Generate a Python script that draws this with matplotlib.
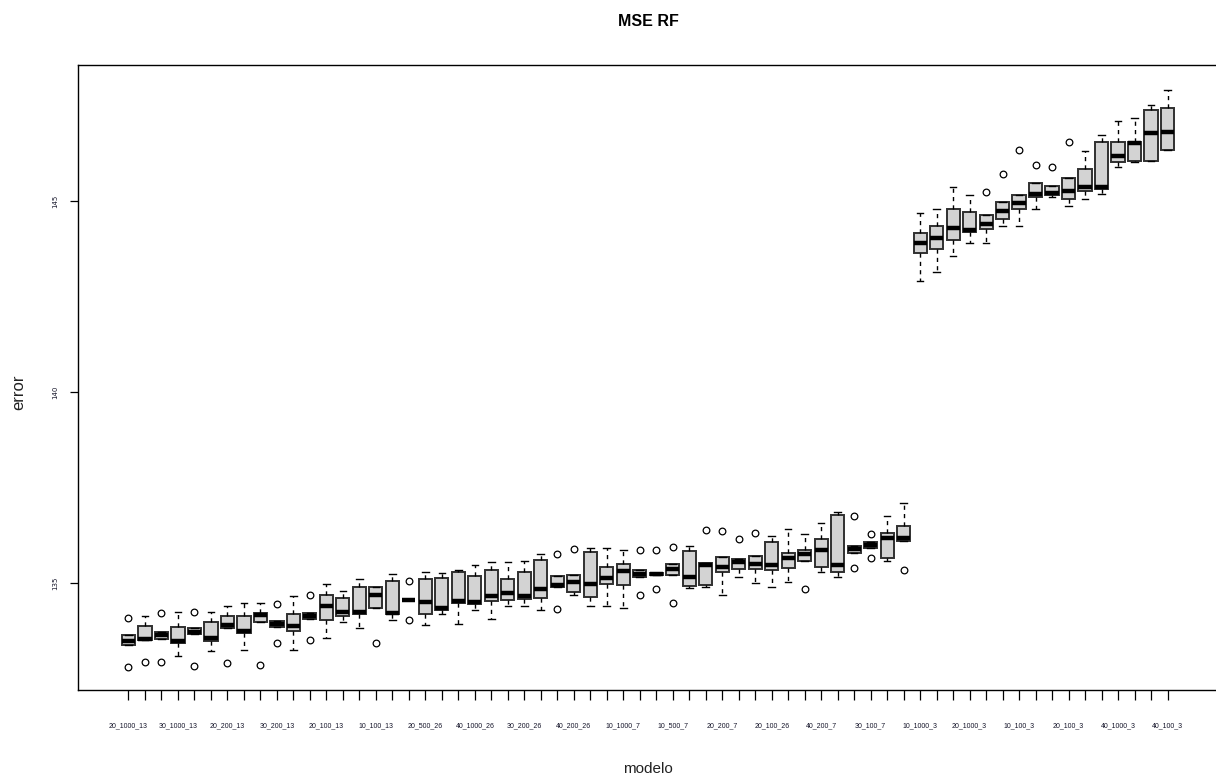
import matplotlib.pyplot as plt

# etiquetas visibles del eje x (una de cada tres cajas)
modelos = ["20_1000_13", "30_1000_13", "20_200_13", "30_200_13", "20_100_13",
           "10_100_13", "20_500_26", "40_1000_26", "30_200_26", "40_200_26",
           "10_1000_7", "10_500_7", "20_200_7", "20_100_26", "40_200_7",
           "30_100_7", "10_1000_3", "20_1000_3", "10_100_3", "20_100_3",
           "40_1000_3", "40_100_3"]

whislo = [133.38, 133.51, 133.53, 133.09, 133.66, 133.23, 133.81, 133.25,
          133.97, 133.84, 133.26, 134.06, 133.57, 133.99, 133.81, 134.34,
          134.03, 134.55, 133.90, 134.19, 133.93, 134.29, 134.07, 134.41,
          134.39, 134.29, 134.90, 134.69, 134.39, 134.39, 134.35, 135.15,
          135.20, 135.21, 134.88, 134.90, 134.69, 135.16, 134.99, 134.89,
          135.03, 135.58, 135.30, 135.16, 135.79, 135.92, 135.58, 136.10,
          142.91, 143.14, 143.57, 143.89, 143.89, 144.35, 144.35, 144.78,
          145.10, 144.87, 145.04, 145.18, 145.90, 146.01, 146.05, 146.34]
q1 = [133.38, 133.51, 133.53, 133.43, 133.66, 133.47, 133.81, 133.68,
      133.97, 133.84, 133.75, 134.06, 134.03, 134.14, 134.19, 134.34,
      134.18, 134.55, 134.19, 134.29, 134.48, 134.45, 134.53, 134.55,
      134.58, 134.62, 134.90, 134.77, 134.64, 134.98, 134.95, 135.15,
      135.20, 135.21, 134.93, 134.95, 135.28, 135.38, 135.36, 135.34,
      135.39, 135.58, 135.43, 135.29, 135.79, 135.92, 135.65, 136.10,
      143.63, 143.75, 143.98, 144.19, 144.28, 144.52, 144.80, 145.11,
      145.16, 145.04, 145.26, 145.32, 146.02, 146.04, 146.05, 146.34]
mediana = [133.48, 133.54, 133.64, 133.48, 133.73, 133.57, 133.90, 133.74,
           134.17, 133.93, 133.87, 134.13, 134.41, 134.24, 134.25, 134.69,
           134.22, 134.55, 134.51, 134.35, 134.53, 134.51, 134.67, 134.73,
           134.66, 134.84, 134.95, 135.02, 134.97, 135.12, 135.31, 135.24,
           135.24, 135.38, 135.16, 135.47, 135.41, 135.55, 135.50, 135.47,
           135.65, 135.77, 135.86, 135.48, 135.90, 136.00, 136.17, 136.18,
           143.89, 144.03, 144.29, 144.24, 144.39, 144.75, 144.94, 145.18,
           145.20, 145.26, 145.36, 145.37, 146.18, 146.51, 146.77, 146.80]
q3 = [133.63, 133.88, 133.73, 133.86, 133.83, 133.97, 134.15, 134.15,
      134.22, 134.01, 134.19, 134.22, 134.69, 134.62, 134.90, 134.90,
      135.06, 134.55, 135.10, 135.12, 135.28, 135.18, 135.33, 135.10,
      135.30, 135.61, 135.18, 135.21, 135.82, 135.42, 135.49, 135.33,
      135.27, 135.49, 135.84, 135.52, 135.67, 135.62, 135.71, 136.08,
      135.79, 135.86, 136.14, 136.79, 135.98, 136.07, 136.32, 136.49,
      144.17, 144.35, 144.78, 144.72, 144.63, 144.97, 145.16, 145.46,
      145.40, 145.61, 145.83, 146.54, 146.55, 146.55, 147.38, 147.44]
whishi = [133.63, 134.14, 133.73, 134.23, 133.83, 134.23, 134.40, 134.48,
          134.47, 134.01, 134.66, 134.22, 134.97, 134.79, 135.10, 134.90,
          135.23, 134.55, 135.28, 135.27, 135.34, 135.46, 135.55, 135.55,
          135.58, 135.76, 135.18, 135.21, 135.93, 135.91, 135.86, 135.33,
          135.27, 135.49, 135.98, 135.52, 135.67, 135.62, 135.71, 136.23,
          136.41, 136.29, 136.58, 136.86, 135.98, 136.07, 136.75, 137.10,
          144.69, 144.80, 145.37, 145.16, 144.63, 144.97, 145.16, 145.46,
          145.40, 145.61, 146.32, 146.73, 147.10, 147.16, 147.51, 147.91]
atipicos = [[134.08, 132.79], [132.92], [134.21, 132.92], [], [134.25, 132.83],
            [], [132.90], [], [132.85], [134.45, 133.44], [], [134.69, 133.52],
            [], [], [], [133.42], [], [135.05, 134.03], [], [], [], [], [], [],
            [], [], [135.76, 134.31], [135.89], [], [], [], [135.86, 134.69],
            [135.86, 134.84], [135.95, 134.47], [], [136.39], [136.36], [136.14],
            [136.30], [], [], [134.84], [], [], [136.75, 135.39], [136.29, 135.65],
            [], [135.33], [], [], [], [], [145.24], [145.71], [146.34], [145.94],
            [145.88], [146.55], [], [], [], [], [], []]

n = len(mediana)
stats = []
for i in range(n):
    stats.append(dict(whislo=whislo[i], q1=q1[i], med=mediana[i], q3=q3[i],
                      whishi=whishi[i], fliers=atipicos[i]))

# solo se dibuja una etiqueta de cada tres, como en el grafico de R
etiquetas = [""] * n
for k, m in enumerate(modelos):
    etiquetas[3 * k] = m

fig = plt.figure(figsize=(12.16, 7.81), dpi=100)
ax = fig.add_axes([78 / 1216, 1 - 690 / 781, 1140 / 1216, 625 / 781])

ax.bxp(stats, positions=range(1, n + 1), widths=0.8, capwidths=0.4,
       patch_artist=True, showfliers=True,
       boxprops=dict(facecolor="#d3d3d3", edgecolor="#303030", linewidth=1.4),
       medianprops=dict(color="black", linewidth=3.2, solid_capstyle="butt"),
       whiskerprops=dict(color="black", linestyle=(0, (3, 3)), linewidth=1),
       capprops=dict(color="black", linewidth=1),
       flierprops=dict(marker="o", markerfacecolor="none",
                       markeredgecolor="black", markersize=4.8,
                       markeredgewidth=0.9))

ax.set_xlim(-2.06, 67.06)
ax.set_ylim(132.2, 148.56)

ax.set_xticks(range(1, n + 1))
ax.set_xticklabels(etiquetas, fontsize=5, color="#15152a",
                   family=["Liberation Sans Narrow", "Liberation Sans"])
ax.set_yticks([135, 140, 145])
ax.set_yticklabels(["135", "140", "145"], rotation=90, va="center",
                   fontsize=5, color="#15152a")
ax.tick_params(axis="x", length=7, width=0.9, pad=16)
ax.tick_params(axis="y", length=6, width=0.9, pad=8)

for s in ax.spines.values():
    s.set_linewidth(1)
    s.set_color("black")

fig.text(648 / 1216, 1 - 22 / 781, "MSE RF", ha="center", va="center",
         fontsize=11.5, fontweight="bold",
         family=["Liberation Sans Narrow", "Liberation Sans"])
fig.text(648 / 1216, 1 - 769 / 781, "modelo", ha="center", va="center",
         fontsize=11, color="#222222",
         family=["Liberation Sans Narrow", "Liberation Sans"])
fig.text(19 / 1216, 1 - 392 / 781, "error", ha="center", va="center",
         rotation=90, fontsize=12, color="#222222",
         family=["Liberation Sans", "DejaVu Sans"])

fig.savefig("out.png", dpi=100)
